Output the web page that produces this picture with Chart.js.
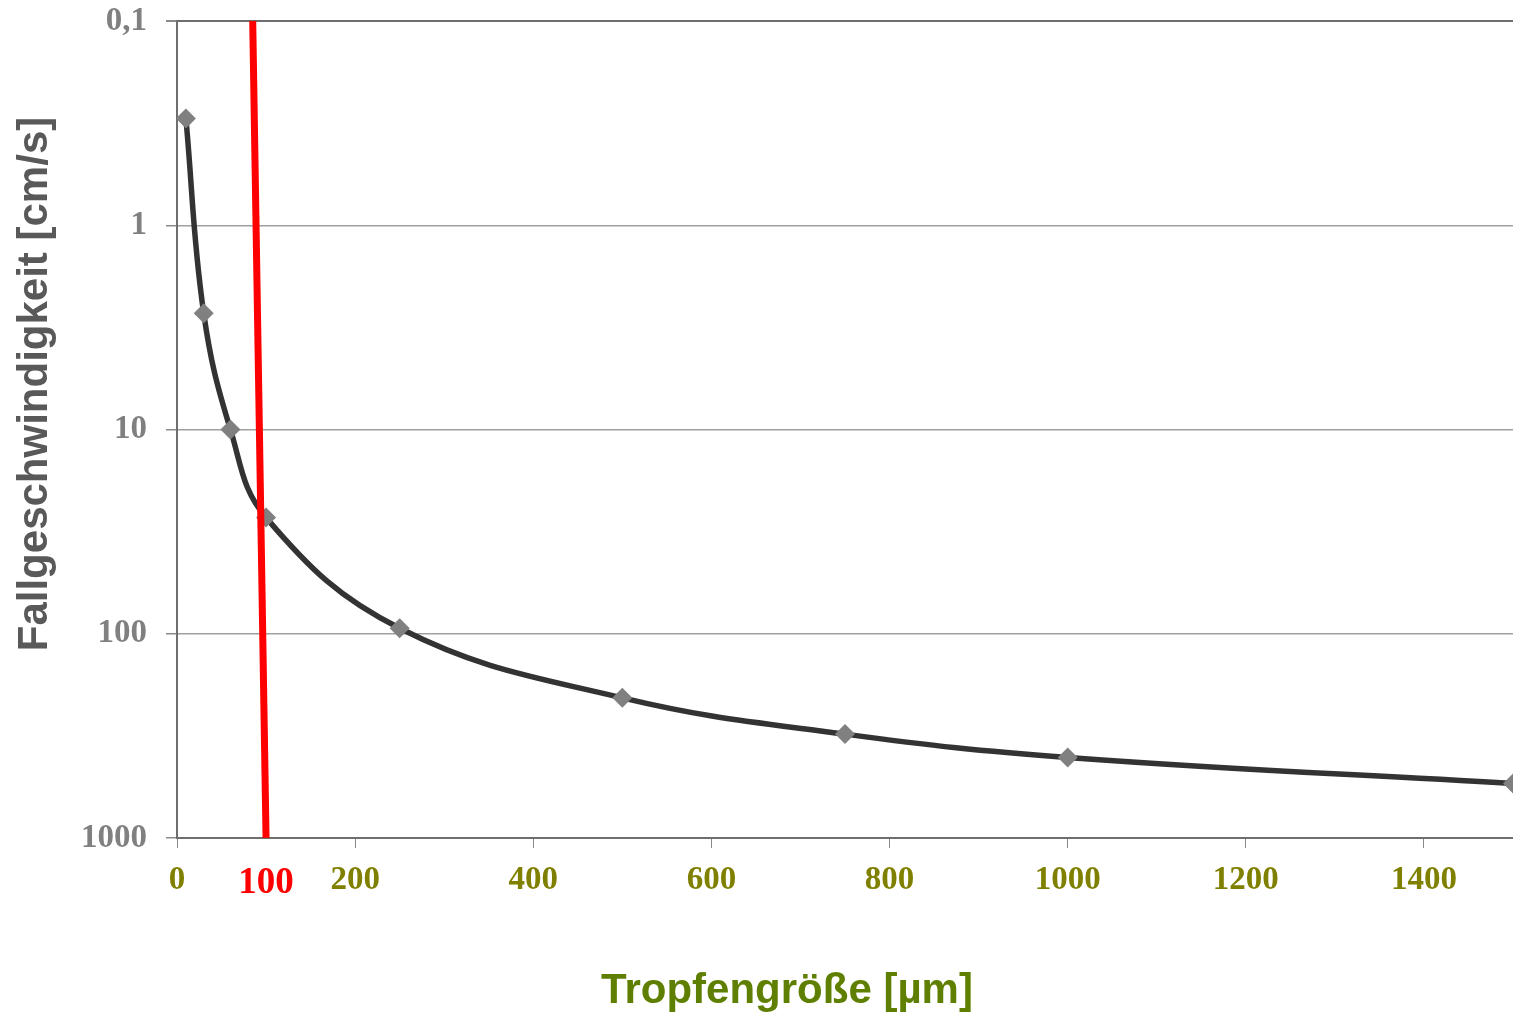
<!DOCTYPE html>
<html>
<head>
<meta charset="utf-8">
<script src="https://cdn.jsdelivr.net/npm/chart.js"></script>
<style>
  body { margin: 0; background: #fff; }
</style>
</head>
<body>
<canvas id="chart" width="1513" height="1015"></canvas>
<script>
// droplet size [µm] and fall speed [cm/s]
const dropSize = [10, 30, 60, 100, 250, 500, 750, 1000, 1500];
const fallSpeed = [0.3, 2.7, 10, 27, 94, 206, 310, 403, 541];

// red marker line at ~100 µm
const limitX = [85, 100];
const limitY = [0.1, 1000];

const xTicks = [0, 100, 200, 400, 600, 800, 1000, 1200, 1400];
const yTicks = [0.1, 1, 10, 100, 1000];
const yTickLabels = ['0,1', '1', '10', '100', '1000'];

const serif = '"Liberation Serif", "Times New Roman", serif';
const sans = '"Liberation Sans", Arial, sans-serif';

// axis titles are not centred on the plot, so draw them by hand
const axisTitles = {
  id: 'axisTitles',
  afterDraw(chart) {
    const ctx = chart.ctx;
    ctx.save();
    ctx.font = 'bold 42px ' + sans;
    ctx.textAlign = 'center';
    ctx.textBaseline = 'alphabetic';
    ctx.fillStyle = '#5f7f00';
    ctx.fillText('Tropfengröße [µm]', 787, 1003);
    ctx.translate(47, 384);
    ctx.rotate(-Math.PI / 2);
    ctx.fillStyle = '#595959';
    ctx.fillText('Fallgeschwindigkeit [cm/s]', 0, 0);
    ctx.restore();
  }
};

new Chart(document.getElementById('chart'), {
  type: 'line',
  data: {
    datasets: [
      {
        label: 'Grenze',
        data: limitX.map((x, i) => ({ x: x, y: limitY[i] })),
        borderColor: '#ff0000',
        borderWidth: 7,
        pointRadius: 0,
        tension: 0,
        order: 0
      },
      {
        label: 'Fallgeschwindigkeit',
        data: dropSize.map((x, i) => ({ x: x, y: fallSpeed[i] })),
        borderColor: '#333333',
        borderWidth: 5.5,
        tension: 0.4,
        pointStyle: 'rectRot',
        pointRadius: 10,
        pointBorderWidth: 0,
        pointBackgroundColor: '#808080',
        pointBorderColor: '#808080',
        order: 1
      }
    ]
  },
  options: {
    responsive: false,
    animation: false,
    layout: {
      autoPadding: false,
      padding: { top: 21, right: 0, left: 0, bottom: 0 }
    },
    plugins: {
      legend: { display: false },
      tooltip: { enabled: false }
    },
    scales: {
      x: {
        type: 'linear',
        min: 0,
        max: 1500,
        afterBuildTicks: (scale) => {
          scale.ticks = xTicks.map(v => ({ value: v }));
        },
        afterFit: (scale) => {
          scale.height = 177;
          scale.paddingLeft = 0;
          scale.paddingRight = 0;
        },
        border: { color: '#6e6e6e', width: 2 },
        grid: {
          drawOnChartArea: false,
          tickLength: 10,
          tickColor: (ctx) => ctx.tick && ctx.tick.value === 100 ? 'rgba(0,0,0,0)' : '#8a8a8a'
        },
        ticks: {
          autoSkip: false,
          maxRotation: 0,
          padding: 13,
          callback: (value) => String(value),
          color: (ctx) => ctx.tick && ctx.tick.value === 100 ? '#ff0000' : '#808000',
          font: (ctx) => ctx.tick && ctx.tick.value === 100
            ? { family: serif, size: 37, weight: 'bold' }
            : { family: serif, size: 33, weight: 'bold' }
        }
      },
      y: {
        type: 'logarithmic',
        reverse: true,
        min: 0.1,
        max: 1000,
        afterBuildTicks: (scale) => {
          scale.ticks = yTicks.map(v => ({ value: v }));
        },
        afterFit: (scale) => {
          scale.width = 177;
          scale.paddingTop = 0;
          scale.paddingBottom = 0;
        },
        border: { color: '#6e6e6e', width: 2 },
        grid: {
          color: (ctx) => ctx.tick && ctx.tick.value === 0.1 ? '#6e6e6e' : '#a0a0a0',
          lineWidth: (ctx) => ctx.tick && ctx.tick.value === 0.1 ? 2 : 1.5,
          tickLength: 11,
          tickColor: '#8a8a8a'
        },
        ticks: {
          padding: 19,
          color: '#808080',
          font: { family: serif, size: 33, weight: 'bold' },
          callback: (value, index) => yTickLabels[index]
        }
      }
    }
  },
  plugins: [axisTitles]
});
</script>
</body>
</html>
